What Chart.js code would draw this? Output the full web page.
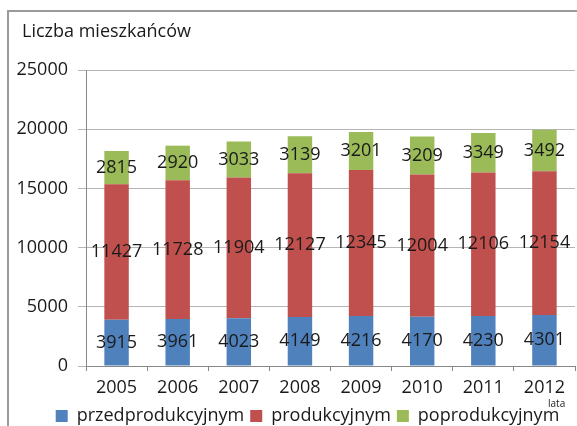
<!DOCTYPE html>
<html>
<head>
<meta charset="utf-8">
<script src="https://cdn.jsdelivr.net/npm/chart.js@4.4.1/dist/chart.umd.min.js"></script>
<style>
  html, body { margin: 0; padding: 0; background: #fff; }
  #wrap { width: 577px; height: 426px; position: relative; }
</style>
</head>
<body>
<div id="wrap"><canvas id="chart" width="577" height="426"></canvas></div>
<script>
const years = ['2005', '2006', '2007', '2008', '2009', '2010', '2011', '2012'];
const przedprodukcyjny = [3915, 3961, 4023, 4149, 4216, 4170, 4230, 4301];
const produkcyjny = [11427, 11728, 11904, 12127, 12345, 12004, 12106, 12154];
const poprodukcyjny = [2815, 2920, 3033, 3139, 3201, 3209, 3349, 3492];
const yTicks = [0, 5000, 10000, 15000, 20000, 25000];

const FONT = 'Open Sans';

// frame, title and "lata" caption
const decor = {
	id: 'decor',
	beforeDraw(chart) {
		let ctx = chart.ctx;
		ctx.save();
		ctx.strokeStyle = '#9a9a9a';
		ctx.lineWidth = 2;
		ctx.beginPath();
		ctx.moveTo(8, 426);
		ctx.lineTo(8, 11);
		ctx.lineTo(577, 11);
		ctx.stroke();
		ctx.restore();
	},
	afterDraw(chart) {
		let ctx = chart.ctx;
		ctx.save();
		ctx.fillStyle = '#1a1a1a';
		ctx.textBaseline = 'middle';
		ctx.font = '18px "' + FONT + '"';
		ctx.fillText('Liczba mieszkańców', 22, 32);
		ctx.font = '10px "' + FONT + '"';
		ctx.fillText('lata', 548, 404);
		ctx.restore();
	}
};

// value labels in the middle of every segment
const segmentLabels = {
	id: 'segmentLabels',
	afterDatasetsDraw(chart) {
		let ctx = chart.ctx;
		ctx.save();
		ctx.fillStyle = '#1a1a1a';
		ctx.font = '18px "' + FONT + '"';
		ctx.textAlign = 'center';
		ctx.textBaseline = 'middle';
		chart.data.datasets.forEach(function (ds, i) {
			chart.getDatasetMeta(i).data.forEach(function (bar, j) {
				ctx.fillText(String(ds.data[j]), bar.x, (bar.y + bar.base) / 2);
			});
		});
		ctx.restore();
	}
};

let ctx = document.getElementById('chart').getContext('2d');

var PopulationChart = new Chart(ctx, {
	type: 'bar',
	data: {
		labels: years,
		datasets: [{
			label: 'przedprodukcyjnym',
			backgroundColor: '#4F81BD',
			data: przedprodukcyjny
		}, {
			label: 'produkcyjnym',
			backgroundColor: '#C0504D',
			data: produkcyjny
		}, {
			label: 'poprodukcyjnym',
			backgroundColor: '#9BBB59',
			data: poprodukcyjny
		}]
	},
	options: {
		responsive: false,
		animation: false,
		// the original legend is centred on a wider frame, so the layout runs past the right edge
		layout: { padding: { top: 70, right: -38, left: 0, bottom: -9 } },
		datasets: { bar: { categoryPercentage: 1, barPercentage: 0.4 } },
		scales: {
			x: {
				stacked: true,
				grid: { drawOnChartArea: false, drawTicks: true, tickLength: 5, color: '#888' },
				border: { color: '#888' },
				ticks: { color: '#1a1a1a', font: { family: FONT, size: 18 }, padding: 6 },
				afterFit(scale) { scale.height = 35; }
			},
			y: {
				stacked: true,
				min: 0,
				max: 25000,
				afterBuildTicks(scale) { scale.ticks = yTicks.map(v => ({ value: v })); },
				grid: { color: '#b5b5b5', tickLength: 8 },
				border: { color: '#888' },
				ticks: {
					color: '#1a1a1a',
					font: { family: FONT, size: 18 },
					padding: 10,
					callback: v => String(v)
				},
				afterFit(scale) { scale.width = 86; }
			},
			// empty spacer on the right, keeps the plot inside the canvas
			spacer: {
				position: 'right',
				display: true,
				grid: { display: false },
				border: { display: false },
				ticks: { display: false },
				afterFit(scale) { scale.width = 40; }
			}
		},
		plugins: {
			legend: {
				position: 'bottom',
				labels: {
					color: '#1a1a1a',
					font: { family: FONT, size: 18 },
					boxWidth: 12,
					boxHeight: 12,
					padding: 6
				}
			},
			tooltip: { enabled: false }
		}
	},
	plugins: [decor, segmentLabels]
});
</script>
</body>
</html>
